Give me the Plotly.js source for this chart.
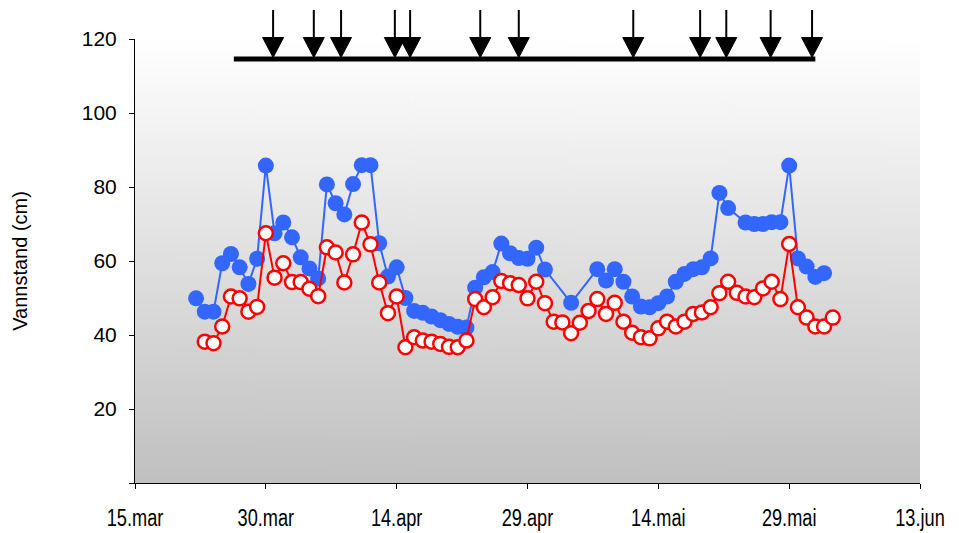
<!DOCTYPE html>
<html>
<head>
<meta charset="utf-8">
<script src="https://cdn.plot.ly/plotly-3.0.1.min.js"></script>
<style>
  html, body { margin: 0; padding: 0; background: #ffffff; }
  #chart { width: 959px; height: 533px; }
</style>
</head>
<body>
<div id="chart"></div>
<script>
// ---- Data ----
var blueDates = [
  '2009-03-22','2009-03-23','2009-03-24','2009-03-25','2009-03-26','2009-03-27','2009-03-28','2009-03-29','2009-03-30','2009-03-31',
  '2009-04-01','2009-04-02','2009-04-03','2009-04-04','2009-04-05','2009-04-06','2009-04-07','2009-04-08','2009-04-09','2009-04-10',
  '2009-04-11','2009-04-12','2009-04-13','2009-04-14','2009-04-15','2009-04-16','2009-04-17','2009-04-18','2009-04-19','2009-04-20',
  '2009-04-21','2009-04-22','2009-04-23','2009-04-24','2009-04-25','2009-04-26','2009-04-27','2009-04-28','2009-04-29','2009-04-30',
  '2009-05-01','2009-05-04','2009-05-07','2009-05-08','2009-05-09','2009-05-10','2009-05-11','2009-05-12','2009-05-13','2009-05-14',
  '2009-05-15','2009-05-16','2009-05-17','2009-05-18','2009-05-19','2009-05-20','2009-05-21','2009-05-22','2009-05-24','2009-05-25',
  '2009-05-26','2009-05-27','2009-05-28','2009-05-29','2009-05-30','2009-05-31','2009-06-01','2009-06-02'
];
var blueValues = [
  49.9, 46.3, 46.3, 59.4, 61.9, 58.3, 53.8, 60.6, 85.8, 67.5,
  70.4, 66.4, 61.0, 58.0, 55.3, 80.7, 75.6, 72.6, 80.8, 85.9,
  85.9, 64.8, 55.8, 58.3, 50.0, 46.5, 46.0, 45.0, 44.0, 43.0,
  42.2, 42.0, 52.8, 55.6, 57.0, 64.7, 62.1, 60.8, 60.6, 63.6,
  57.7, 48.7, 57.8, 54.7, 57.8, 54.4, 50.4, 47.7, 47.5, 48.6,
  50.4, 54.4, 56.5, 57.8, 58.3, 60.7, 78.4, 74.3, 70.4, 70.0,
  70.0, 70.5, 70.5, 85.8, 60.7, 58.5, 55.7, 56.7
];
var redDates = [
  '2009-03-23','2009-03-24','2009-03-25','2009-03-26','2009-03-27','2009-03-28','2009-03-29','2009-03-30','2009-03-31',
  '2009-04-01','2009-04-02','2009-04-03','2009-04-04','2009-04-05','2009-04-06','2009-04-07','2009-04-08','2009-04-09','2009-04-10',
  '2009-04-11','2009-04-12','2009-04-13','2009-04-14','2009-04-15','2009-04-16','2009-04-17','2009-04-18','2009-04-19','2009-04-20',
  '2009-04-21','2009-04-22','2009-04-23','2009-04-24','2009-04-25','2009-04-26','2009-04-27','2009-04-28','2009-04-29','2009-04-30',
  '2009-05-01','2009-05-02','2009-05-03','2009-05-04','2009-05-05','2009-05-06','2009-05-07','2009-05-08','2009-05-09','2009-05-10',
  '2009-05-11','2009-05-12','2009-05-13','2009-05-14','2009-05-15','2009-05-16','2009-05-17','2009-05-18','2009-05-19','2009-05-20',
  '2009-05-21','2009-05-22','2009-05-23','2009-05-24','2009-05-25','2009-05-26','2009-05-27','2009-05-28','2009-05-29','2009-05-30',
  '2009-05-31','2009-06-01','2009-06-02','2009-06-03'
];
var redValues = [
  38.2, 37.8, 42.3, 50.4, 49.9, 46.3, 47.6, 67.5, 55.5,
  59.4, 54.3, 54.3, 52.5, 50.5, 63.7, 62.3, 54.2, 61.8, 70.4,
  64.5, 54.2, 45.9, 50.4, 36.7, 39.4, 38.5, 38.2, 37.6, 36.8,
  36.7, 38.5, 49.7, 47.5, 50.2, 54.6, 54.0, 53.5, 49.9, 54.4,
  48.6, 43.6, 43.4, 40.5, 43.3, 46.5, 49.7, 45.7, 48.7, 43.6,
  40.6, 39.4, 39.1, 41.8, 43.6, 42.3, 43.6, 45.7, 46.1, 47.5,
  51.3, 54.4, 51.4, 50.4, 50.2, 52.6, 54.4, 49.7, 64.6, 47.5,
  44.7, 42.3, 42.3, 44.7
];
// Event arrows (dates) and period bar
var arrowDates = [
  '2009-03-30 20:00','2009-04-04 12:00','2009-04-07 15:00','2009-04-13 19:00','2009-04-15 13:00','2009-04-23 14:00',
  '2009-04-28 00:00','2009-05-11 03:00','2009-05-18 19:00','2009-05-21 19:00','2009-05-26 21:00','2009-05-31 15:00'
];
var periodStart = '2009-03-26 08:00';
var periodEnd = '2009-06-01 00:00';
var periodLevel = 114.6;

var xTickVals = ['2009-03-15','2009-03-30','2009-04-14','2009-04-29','2009-05-14','2009-05-29','2009-06-13'];
var xTickText = ['15.mar','30.mar','14.apr','29.apr','14.mai','29.mai','13.jun'];
var yTickVals = [0, 20, 40, 60, 80, 100, 120];
var yTickText = ['', '20', '40', '60', '80', '100', '120'];

// ---- Background gradient image ----
var cv = document.createElement('canvas');
cv.width = 10; cv.height = 400;
var ctx = cv.getContext('2d');
var g = ctx.createLinearGradient(0, 0, 0, 400);
g.addColorStop(0, '#ffffff');
g.addColorStop(1, '#c0c0c0');
ctx.fillStyle = g;
ctx.fillRect(0, 0, 10, 400);
var bgURL = cv.toDataURL('image/png');

var blueTrace = {
  x: blueDates, y: blueValues, type: 'scatter', mode: 'lines+markers',
  line: {color: 'rgb(51,102,255)', width: 2},
  marker: {color: 'rgb(51,102,255)', size: 16, line: {width: 0}},
  hoverinfo: 'x+y', showlegend: false
};
var redTrace = {
  x: redDates, y: redValues, type: 'scatter', mode: 'lines+markers',
  line: {color: '#ff0000', width: 2},
  marker: {color: '#ffffff', size: 14, line: {color: '#ff0000', width: 2.5}},
  hoverinfo: 'x+y', showlegend: false
};

var shapes = [{
  type: 'line', xref: 'x', yref: 'y', x0: periodStart, x1: periodEnd, y0: periodLevel, y1: periodLevel,
  line: {color: '#000000', width: 5}
}];
arrowDates.forEach(function (d) {
  shapes.push({
    type: 'path', xref: 'x', yref: 'paper', xsizemode: 'pixel', ysizemode: 'pixel',
    xanchor: d, yanchor: 1, path: 'M 0 29 L 0 1',
    line: {color: '#000000', width: 2}
  });
  shapes.push({
    type: 'path', xref: 'x', yref: 'paper', xsizemode: 'pixel', ysizemode: 'pixel',
    xanchor: d, yanchor: 1, path: 'M -10.5 1.5 L 10.5 1.5 L 0 -18.5 Z',
    fillcolor: '#000000', line: {color: '#000000', width: 1}
  });
});

var layout = {
  width: 959, height: 533,
  margin: {l: 135, r: 39, t: 39, b: 50, pad: 0},
  paper_bgcolor: '#ffffff',
  plot_bgcolor: 'rgba(0,0,0,0)',
  font: {family: 'Liberation Sans, Arial, sans-serif', color: '#000000', size: 20},
  showlegend: false,
  xaxis: {
    type: 'date', range: ['2009-03-15', '2009-06-13'],
    tickmode: 'array', tickvals: xTickVals, ticktext: xTickText,
    ticks: 'outside', ticklen: 5, tickwidth: 1, tickcolor: '#000000',
    showline: true, linecolor: '#000000', linewidth: 1,
    showgrid: false, zeroline: false, ticklabelstandoff: 9,
    tickfont: {family: 'Liberation Sans, Arial, sans-serif', size: 23}
  },
  yaxis: {
    range: [0, 120], tickmode: 'array', tickvals: yTickVals, ticktext: yTickText,
    ticks: 'outside', ticklen: 5, tickwidth: 1, tickcolor: '#000000',
    showline: true, linecolor: '#000000', linewidth: 1,
    showgrid: false, zeroline: false, ticklabelstandoff: 8,
    tickfont: {size: 21},
    title: {text: 'Vannstand (cm)', font: {size: 20}, standoff: 48}
  },
  images: [{
    source: bgURL, xref: 'paper', yref: 'paper', x: 0, y: 1, sizex: 1, sizey: 1,
    sizing: 'stretch', xanchor: 'left', yanchor: 'top', layer: 'below'
  }],
  shapes: shapes
};

Plotly.newPlot('chart', [blueTrace, redTrace], layout, {displayModeBar: false, staticPlot: true}).then(function (gd) {
  // Condensed look of the date labels (as in the original)
  var texts = gd.querySelectorAll('.xtick text');
  texts.forEach(function (t) {
    var w = t.getComputedTextLength();
    t.setAttribute('textLength', (w * 0.79).toFixed(1));
    t.setAttribute('lengthAdjust', 'spacingAndGlyphs');
  });
});
</script>
</body>
</html>
